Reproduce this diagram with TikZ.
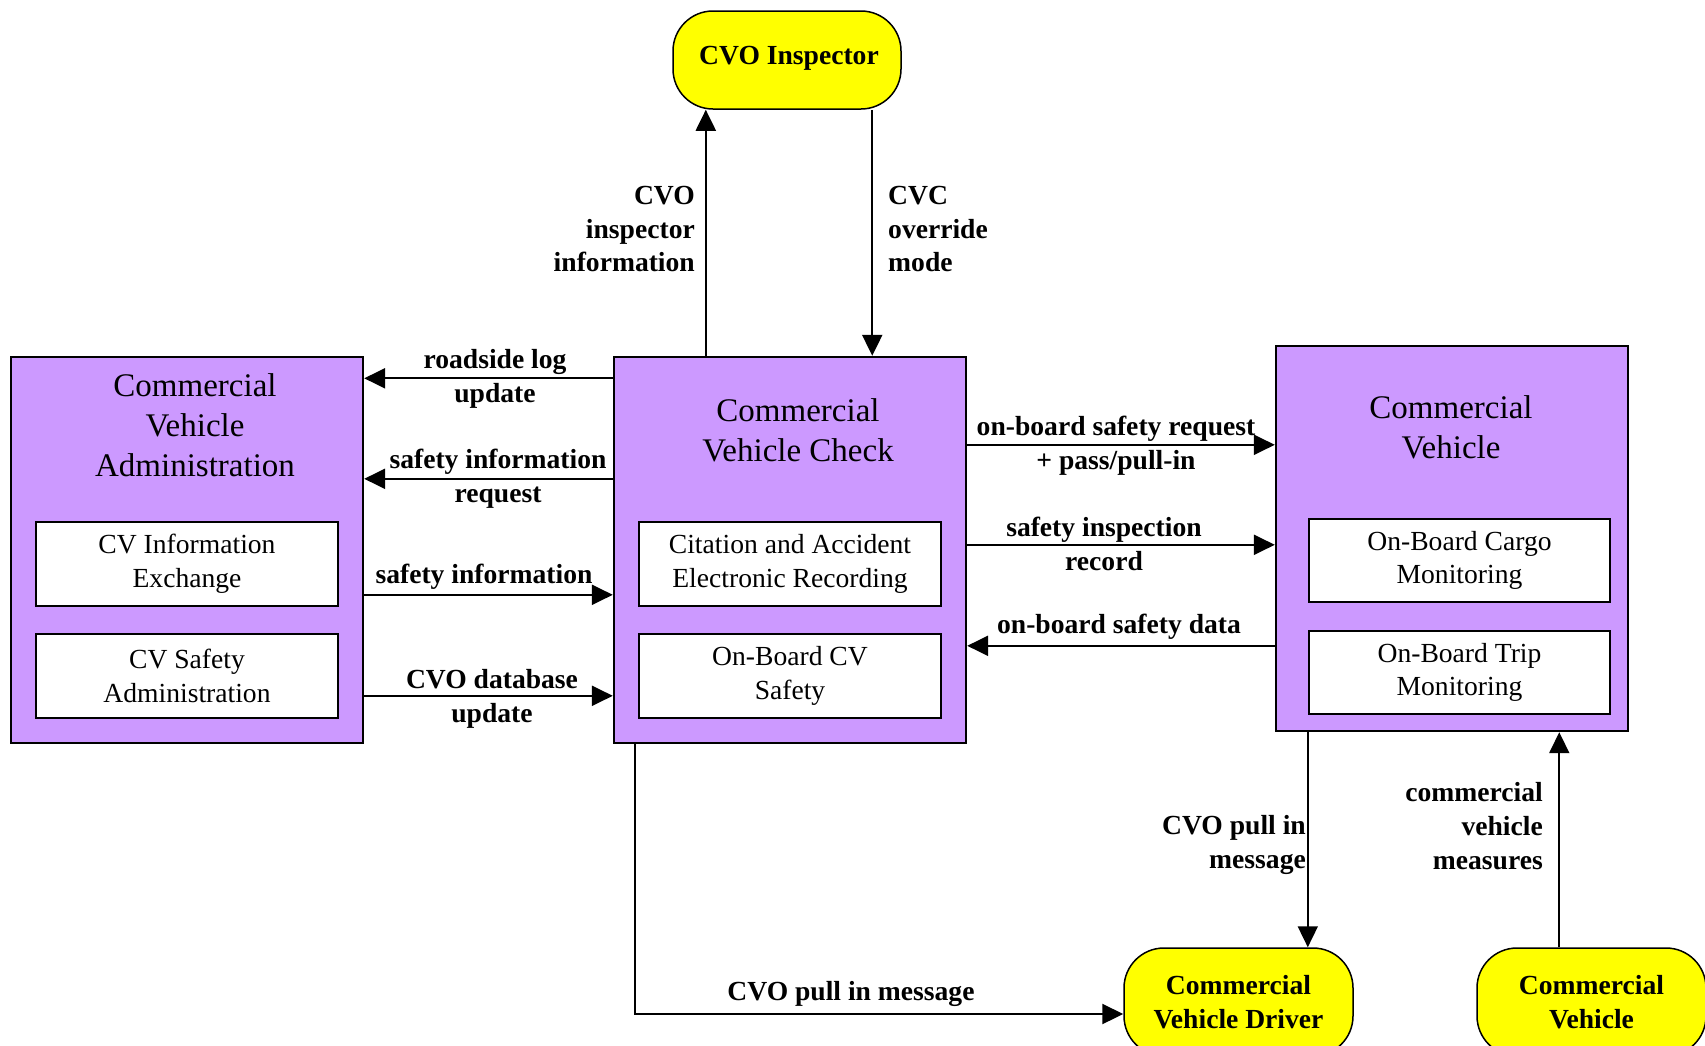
\documentclass[tikz,border=0pt]{standalone}
\usepackage{fontspec}
\setmainfont{Liberation Serif}
\usetikzlibrary{arrows.meta}
\definecolor{boxpurple}{HTML}{CC99FF}
\definecolor{termyellow}{HTML}{FFFF00}
\begin{document}
\begin{tikzpicture}[x=1pt,y=-1pt,
  outer/.style={draw=black, line width=2.4pt, fill=boxpurple, minimum width=352pt, minimum height=386pt, inner sep=0pt},
  sub/.style={draw=black, line width=2.2pt, fill=white, minimum width=302pt, minimum height=84pt, align=center, font=\fontsize{27.6}{33.7}\selectfont, inner sep=0pt},
  title/.style={align=center, font=\fontsize{33}{40}\selectfont, inner sep=0pt},
  term/.style={draw=black, line width=1.5pt, fill=termyellow, rounded corners=40pt, minimum width=229pt, minimum height=98pt, inner sep=0pt, align=center, font=\bfseries\fontsize{27.6}{33.7}\selectfont},
  lbl/.style={font=\bfseries\fontsize{27.6}{33.7}\selectfont, inner sep=0pt},
  arr/.style={line width=2.2pt, -{Triangle[length=21pt,width=20pt]}},
]
\useasboundingbox (0,0) rectangle (1705,1045);
\clip (0,0) rectangle (1705,1045);

% main subsystems
\node[outer] (cva) at (187,550) {};
\node[outer] (cvc) at (790,550) {};
\node[outer, minimum height=385pt] (cv) at (1452,538.5) {};

\node[title] (cvat) at (195,425) {Commercial\\Vehicle\\Administration};
\node[title] (cvct) at (798,430) {Commercial\\Vehicle Check};
\node[title] (cvt) at (1451,427.5) {Commercial\\Vehicle};

% equipment packages
\node[sub] (cva1) at (187,564) {CV Information\\Exchange};
\node[sub] (cva2) at (187,676) {CV Safety\\Administration};
\node[sub] (cvc1) at (790,564) {Citation and Accident\\Electronic Recording};
\node[sub] (cvc2) at (790,676) {On-Board CV\\Safety};
\node[sub, minimum width=301pt, minimum height=83pt] (cv1) at (1459.5,560.5) {On-Board Cargo\\Monitoring};
\node[sub, minimum width=301pt, minimum height=83pt] (cv2) at (1459.5,672.5) {On-Board Trip\\Monitoring};

% terminators
\node[term, minimum width=228pt] (insp) at (787,60) {};
\node[lbl] (inspt) at (789,58.5) {CVO Inspector};
\node[term, minimum height=108pt] (drv) at (1238.5,1002) {Commercial\\Vehicle Driver};
\node[term, minimum height=108pt] (veh) at (1591.5,1002) {Commercial\\Vehicle};

% flows between inspector and vehicle check
\draw[arr] ([xshift=93pt]cvc.north west) -- ([xshift=93pt]cvc.north west |- insp.south);
\draw[arr] ([xshift=200pt]insp.south west) -- ([xshift=200pt]insp.south west |- cvc.north);
\node[lbl, anchor=east, align=right] (l1) at (695,229) {CVO\\inspector\\information};
\node[lbl, anchor=west, align=left] (l2) at (888,229) {CVC\\override\\mode};

% flows between administration and vehicle check
\draw[arr] ([yshift=-22.5pt]cvc.north west) -- ([yshift=-22.5pt]cvc.north west -| cva.east);
\draw[arr] ([yshift=-123pt]cvc.north west) -- ([yshift=-123pt]cvc.north west -| cva.east);
\draw[arr] ([yshift=-239pt]cva.north east) -- ([yshift=-239pt]cva.north east -| cvc.west);
\draw[arr] ([yshift=-340pt]cva.north east) -- ([yshift=-340pt]cva.north east -| cvc.west);
\node[lbl, align=center] (l3) at (495,379) {roadside log\\update};
\node[lbl, align=center] (l4) at (498,479) {safety information\\request};
\node[lbl] (l5) at (484,577) {safety information};
\node[lbl, align=center] (l6) at (492,699) {CVO database\\update};

% flows between vehicle check and vehicle
\draw[arr] ([yshift=-89pt]cvc.north east) -- ([yshift=-89pt]cvc.north east -| cv.west);
\draw[arr] ([yshift=-189pt]cvc.north east) -- ([yshift=-189pt]cvc.north east -| cv.west);
\draw[arr] ([yshift=-301pt]cv.north west) -- ([yshift=-301pt]cv.north west -| cvc.east);
\node[lbl, align=center] (l7) at (1116,446) {on-board safety request\\+ pass/pull-in};
\node[lbl, align=center] (l8) at (1104,544) {safety inspection\\record};
\node[lbl] (l9) at (1119,627) {on-board safety data};

% flows to and from the driver and the vehicle
\draw[arr] ([xshift=22pt]cvc.south west) |- ([yshift=-12pt]drv.west);
\node[lbl] (l10) at (851,994) {CVO pull in message};
\draw[arr, line width=1.8pt] ([xshift=33pt]cv.south west) -- ([xshift=33pt]cv.south west |- drv.north);
\draw[arr, line width=1.8pt] ([xshift=83pt]veh.north west) -- ([xshift=83pt]veh.north west |- cv.south);
\node[lbl, anchor=east, align=right] (l11) at (1306,845) {CVO pull in\\message};
\node[lbl, anchor=east, align=right] (l12) at (1543,826) {commercial\\vehicle\\measures};
\end{tikzpicture}
\end{document}
